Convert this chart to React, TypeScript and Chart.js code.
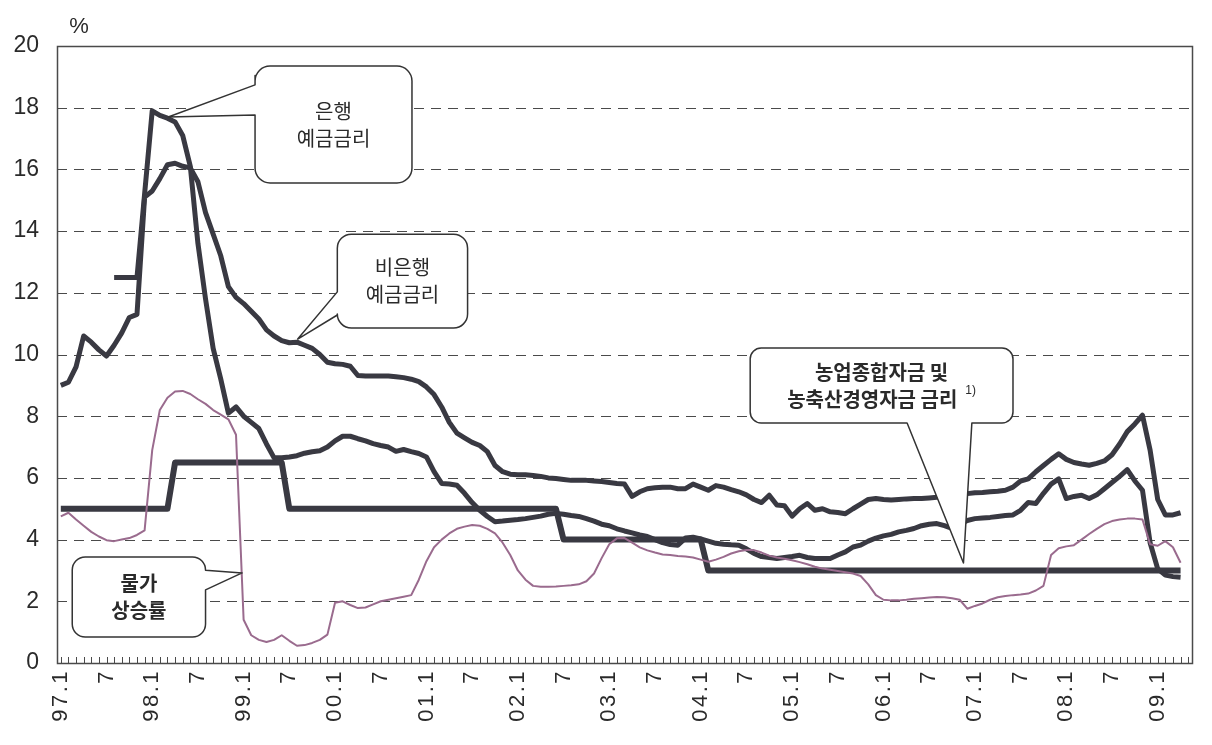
import React, { useEffect, useRef } from "react";
import { Chart, registerables } from "chart.js";

Chart.register(...registerables);

// ---- categories (monthly, 1997.1 – 2009.5) ----
const YEARS = ["97", "98", "99", "00", "01", "02", "03", "04", "05", "06", "07", "08", "09"];
const MONTHS_LAST_YEAR = 5;
const LABELS: string[] = YEARS.flatMap((y, k) =>
  Array.from({ length: k === YEARS.length - 1 ? MONTHS_LAST_YEAR : 12 }, (_, m) => `${y}.${m + 1}`)
);

// ---- y axis ----
const Y_MIN = 0;
const Y_MAX = 20;
const Y_STEP = 2;

// ---- series (%, monthly from 97.1) ----
// 비은행 예금금리
const NONBANK: number[] = [
  9.0, 9.1, 9.6, 10.6, 10.4, 10.15, 9.95, 10.3, 10.7, 11.2, 11.3, 15.1,
  15.3, 15.7, 16.15, 16.2, 16.1, 16.05, 15.6, 14.6, 13.9, 13.2, 12.2, 11.85,
  11.65, 11.4, 11.15, 10.8, 10.6, 10.45, 10.38, 10.4, 10.3, 10.2, 10.0, 9.75,
  9.7, 9.68, 9.62, 9.32, 9.3, 9.3, 9.3, 9.3, 9.28, 9.25, 9.2, 9.12,
  8.95, 8.7, 8.3, 7.8, 7.45, 7.3, 7.15, 7.05, 6.85, 6.4, 6.2, 6.12,
  6.1, 6.1, 6.08, 6.05, 6.0, 5.98, 5.95, 5.92, 5.92, 5.92, 5.9, 5.88,
  5.85, 5.82, 5.8, 5.4, 5.55, 5.65, 5.68, 5.7, 5.7, 5.65, 5.65, 5.8,
  5.7, 5.6, 5.75, 5.7, 5.62, 5.55, 5.45, 5.3, 5.2, 5.44, 5.12, 5.1,
  4.76, 5.0, 5.17, 4.95, 5.0, 4.9, 4.88, 4.84, 5.0, 5.15, 5.3, 5.33,
  5.3, 5.28, 5.3, 5.32, 5.33, 5.33, 5.35, 5.37, 5.4, 5.42, 5.45, 5.49,
  5.52, 5.53, 5.55, 5.57, 5.6, 5.7, 5.9, 5.97, 6.2, 6.4, 6.6, 6.78,
  6.6, 6.5, 6.45, 6.41, 6.47, 6.55, 6.75, 7.1, 7.5, 7.75, 8.03, 6.9,
  5.3, 4.8, 4.8, 4.87,
];

// 은행 예금금리
const BANK: (number | null)[] = [
  null, null, null, null, null, null, null, 12.5, 12.5, 12.5, 12.5, 15.2,
  17.9, 17.75, 17.66, 17.54, 17.1, 16.1, 13.6, 11.8, 10.2, 9.2, 8.1, 8.3,
  8.0, 7.8, 7.6, 7.1, 6.65, 6.65, 6.68, 6.72, 6.8, 6.85, 6.88, 7.0,
  7.2, 7.35, 7.35, 7.27, 7.2, 7.11, 7.05, 7.0, 6.86, 6.92, 6.85, 6.79,
  6.68, 6.2, 5.82, 5.8, 5.76, 5.5, 5.2, 4.95, 4.75, 4.58, 4.6, 4.63,
  4.65, 4.68, 4.72, 4.76, 4.82, 4.85, 4.82, 4.78, 4.75, 4.68, 4.6, 4.5,
  4.45, 4.35, 4.28, 4.22, 4.15, 4.1, 4.0, 3.9, 3.84, 3.82, 4.05, 4.08,
  4.02, 3.95, 3.88, 3.85, 3.83, 3.82, 3.7, 3.55, 3.45, 3.42, 3.39, 3.42,
  3.45, 3.49, 3.42, 3.39, 3.39, 3.39, 3.5, 3.6, 3.76, 3.82, 3.95, 4.05,
  4.12, 4.17, 4.25, 4.3, 4.36, 4.45, 4.5, 4.52, 4.45, 4.36, 4.5, 4.62,
  4.68, 4.7, 4.72, 4.75, 4.78, 4.8, 4.95, 5.2, 5.17, 5.5, 5.8, 5.97,
  5.33, 5.4, 5.44, 5.33, 5.45, 5.65, 5.85, 6.05, 6.27, 5.9, 5.6, 3.9,
  3.05, 2.85, 2.8, 2.78,
];

// 농업종합자금 및 농축산경영자금 금리
const AGRI: number[] = [
  5, 5, 5, 5, 5, 5, 5, 5, 5, 5, 5, 5,
  5, 5, 5, 6.5, 6.5, 6.5, 6.5, 6.5, 6.5, 6.5, 6.5, 6.5,
  6.5, 6.5, 6.5, 6.5, 6.5, 6.5, 5, 5, 5, 5, 5, 5,
  5, 5, 5, 5, 5, 5, 5, 5, 5, 5, 5, 5,
  5, 5, 5, 5, 5, 5, 5, 5, 5, 5, 5, 5,
  5, 5, 5, 5, 5, 5, 4, 4, 4, 4, 4, 4,
  4, 4, 4, 4, 4, 4, 4, 4, 4, 4, 4, 4,
  4, 3, 3, 3, 3, 3, 3, 3, 3, 3, 3, 3,
  3, 3, 3, 3, 3, 3, 3, 3, 3, 3, 3, 3,
  3, 3, 3, 3, 3, 3, 3, 3, 3, 3, 3, 3,
  3, 3, 3, 3, 3, 3, 3, 3, 3, 3, 3, 3,
  3, 3, 3, 3, 3, 3, 3, 3, 3, 3, 3, 3,
  3, 3, 3, 3,
];

// 물가상승률
const CPI: number[] = [
  4.75, 4.87, 4.65, 4.45, 4.25, 4.1, 3.98, 3.95, 4.0, 4.05, 4.15, 4.3,
  6.9, 8.2, 8.6, 8.8, 8.82, 8.72, 8.55, 8.4, 8.2, 8.05, 7.9, 7.4,
  1.4, 0.9, 0.75, 0.68, 0.75, 0.9, 0.72, 0.56, 0.58, 0.65, 0.75, 0.92,
  1.95, 2.0, 1.88, 1.78, 1.8, 1.9, 2.0, 2.05, 2.1, 2.15, 2.2, 2.7,
  3.3, 3.75, 4.0, 4.2, 4.35, 4.42, 4.47, 4.45, 4.35, 4.2, 3.9, 3.5,
  3.0, 2.7, 2.5, 2.47, 2.47, 2.48, 2.5, 2.52, 2.55, 2.65, 2.9, 3.4,
  3.85, 4.04, 4.05, 3.9, 3.75, 3.65, 3.58, 3.52, 3.5, 3.47, 3.45, 3.42,
  3.35, 3.28, 3.35, 3.44, 3.55, 3.62, 3.66, 3.66, 3.58, 3.48, 3.42, 3.38,
  3.33, 3.27, 3.2, 3.12, 3.06, 3.02, 2.98, 2.94, 2.9, 2.82, 2.55, 2.2,
  2.05, 2.03, 2.03, 2.05, 2.08, 2.1, 2.12, 2.14, 2.13, 2.1, 2.05, 1.76,
  1.85, 1.93, 2.05, 2.13, 2.17, 2.2, 2.22, 2.25, 2.35, 2.5, 3.5, 3.72,
  3.78, 3.82, 4.0, 4.18, 4.35, 4.5, 4.6, 4.65, 4.68, 4.68, 4.65, 3.85,
  3.8, 3.95, 3.75, 3.25,
];

// ---- callouts (geometry in data units: x = month index, y = %) ----
type Callout = {
  lines: string[];
  sup?: string;
  bold?: boolean;
  left: number; right: number; top: number; bottom: number;
  radius: number;
  side: "left" | "right" | "bottom";
  a1: number; a2: number;
  tip: [number, number];
};

const CALLOUTS: Callout[] = [
  { lines: ["은행", "예금금리"], left: 25.5, right: 46.1, top: 19.35, bottom: 15.56, radius: 15,
    side: "left", a1: 18.74, a2: 17.76, tip: [14.1, 17.7] },
  { lines: ["비은행", "예금금리"], left: 36.3, right: 53.4, top: 13.9, bottom: 10.86, radius: 14,
    side: "left", a1: 12.03, a2: 11.28, tip: [31.1, 10.5] },
  { lines: ["농업종합자금 및", "농축산경영자금 금리"], sup: "1)", bold: true, left: 90.5, right: 125.0, top: 10.21,
    bottom: 7.78, radius: 11, side: "bottom", a1: 111.1, a2: 119.6, tip: [118.5, 3.24] },
  { lines: ["물가", "상승률"], bold: true, left: 1.5, right: 19.0, top: 3.44, bottom: 0.84, radius: 13,
    side: "right", a1: 3.01, a2: 2.37, tip: [23.8, 2.92] },
];

const LINE_COLOR = "#393942";
const CPI_COLOR = "#9a6b8e";
const FRAME_COLOR = "#4a4a4a";
const TEXT_COLOR = "#2a2a2a";
const KFONT = '"Noto Sans CJK KR", "Noto Sans", sans-serif';
const LFONT = '"Liberation Sans", Arial, sans-serif';
const X_LETTER_SPACING = "2.5px";

const framePlugin = {
  id: "frame",
  beforeDraw(chart: any) {
    const xs = chart.scales.x;
    if (xs && !xs.__spaced) {
      const orig = xs.drawLabels.bind(xs);
      xs.drawLabels = (area: any) => {
        const c = chart.ctx;
        c.save();
        (c as any).letterSpacing = X_LETTER_SPACING;
        orig(area);
        c.restore();
      };
      xs.__spaced = true;
    }
  },
  beforeDatasetsDraw(chart: any) {
    const { ctx, chartArea, scales } = chart;
    const { left, right, top, bottom } = chartArea;
    const x = scales.x;
    const y = scales.y;
    ctx.save();
    ctx.strokeStyle = FRAME_COLOR;
    ctx.lineWidth = 1.2;
    ctx.setLineDash([10, 7]);
    for (const t of y.ticks) {
      if (t.value <= Y_MIN || t.value >= Y_MAX) continue;
      const py = Math.round(y.getPixelForValue(t.value)) + 0.5;
      ctx.beginPath();
      ctx.moveTo(left, py);
      ctx.lineTo(right, py);
      ctx.stroke();
    }
    ctx.setLineDash([]);
    ctx.lineWidth = 1;
    for (let i = 0; i < LABELS.length; i++) {
      const px = Math.round(x.getPixelForValue(i)) + 0.5;
      ctx.beginPath();
      ctx.moveTo(px, bottom);
      ctx.lineTo(px, bottom - 6);
      ctx.stroke();
    }
    ctx.lineWidth = 1.5;
    ctx.strokeRect(Math.round(left) + 0.5, Math.round(top) + 0.5, Math.round(right - left), Math.round(bottom - top));
    ctx.fillStyle = TEXT_COLOR;
    ctx.font = `22px ${LFONT}`;
    ctx.textAlign = "center";
    ctx.textBaseline = "middle";
    ctx.fillText("%", left + 22, top - 19);
    ctx.restore();
  },
};

function polyPath(ctx: CanvasRenderingContext2D, verts: { x: number; y: number; r: number }[]) {
  const n = verts.length;
  const f = verts[0];
  const l = verts[n - 1];
  ctx.beginPath();
  ctx.moveTo((f.x + l.x) / 2, (f.y + l.y) / 2);
  for (let k = 0; k < n; k++) {
    const v = verts[k];
    const nx = verts[(k + 1) % n];
    if (v.r > 0) ctx.arcTo(v.x, v.y, nx.x, nx.y, v.r);
    else ctx.lineTo(v.x, v.y);
  }
  ctx.closePath();
}

const calloutPlugin = {
  id: "callouts",
  afterDatasetsDraw(chart: any) {
    const { ctx, scales } = chart;
    const X = (v: number) => scales.x.getPixelForValue(v);
    const Y = (v: number) => scales.y.getPixelForValue(v);
    ctx.save();
    for (const c of CALLOUTS) {
      const L = X(c.left), R = X(c.right), T = Y(c.top), B = Y(c.bottom), r = c.radius;
      const tip = { x: X(c.tip[0]), y: Y(c.tip[1]), r: 0 };
      let verts: { x: number; y: number; r: number }[] = [];
      if (c.side === "left") {
        verts = [
          { x: L, y: T, r }, { x: R, y: T, r }, { x: R, y: B, r }, { x: L, y: B, r },
          { x: L, y: Y(c.a2), r: 0 }, tip, { x: L, y: Y(c.a1), r: 0 },
        ];
      } else if (c.side === "right") {
        verts = [
          { x: L, y: T, r }, { x: R, y: T, r }, { x: R, y: Y(c.a1), r: 0 }, tip,
          { x: R, y: Y(c.a2), r: 0 }, { x: R, y: B, r }, { x: L, y: B, r },
        ];
      } else {
        verts = [
          { x: L, y: T, r }, { x: R, y: T, r }, { x: R, y: B, r },
          { x: X(c.a2), y: B, r: 0 }, tip, { x: X(c.a1), y: B, r: 0 }, { x: L, y: B, r },
        ];
      }
      polyPath(ctx, verts);
      ctx.fillStyle = "#ffffff";
      ctx.fill();
      ctx.strokeStyle = "#333";
      ctx.lineWidth = 1.5;
      ctx.lineJoin = "round";
      ctx.stroke();

      const cx = (L + R) / 2;
      const cy = (T + B) / 2;
      const lh = 27;
      ctx.fillStyle = TEXT_COLOR;
      ctx.textBaseline = "middle";
      const mainFont = `${c.bold ? "bold " : ""}20px ${KFONT}`;
      c.lines.forEach((line, k) => {
        const ly = cy + (k - (c.lines.length - 1) / 2) * lh;
        const isLast = k === c.lines.length - 1;
        if (isLast && c.sup) {
          ctx.font = mainFont;
          const w = ctx.measureText(line).width;
          ctx.font = `12px ${LFONT}`;
          const ws = ctx.measureText(c.sup).width;
          const total = w + 8 + ws;
          ctx.textAlign = "left";
          ctx.font = mainFont;
          ctx.fillText(line, cx - total / 2, ly);
          ctx.font = `12px ${LFONT}`;
          ctx.fillText(c.sup, cx - total / 2 + w + 8, ly - 8);
        } else {
          ctx.textAlign = "center";
          ctx.font = mainFont;
          ctx.fillText(line, cx, ly);
        }
      });
    }
    ctx.restore();
  },
};

export default function App() {
  const ref = useRef<HTMLCanvasElement>(null);

  useEffect(() => {
    if (!ref.current) return;
    Chart.defaults.font.family = LFONT;
    const chart = new Chart(ref.current, {
      type: "line",
      data: {
        labels: LABELS,
        datasets: [
          { label: "물가상승률", data: CPI, borderColor: CPI_COLOR, borderWidth: 2, order: 0 },
          { label: "은행 예금금리", data: BANK, borderColor: LINE_COLOR, borderWidth: 5, order: 1 },
          { label: "비은행 예금금리", data: NONBANK, borderColor: LINE_COLOR, borderWidth: 5, order: 2 },
          { label: "농업종합자금 및 농축산경영자금 금리", data: AGRI, borderColor: LINE_COLOR, borderWidth: 6, order: 3 },
        ].map((d) => ({
          ...d,
          pointRadius: 0,
          pointHoverRadius: 0,
          tension: 0,
          fill: false,
          borderJoinStyle: "round" as const,
          spanGaps: false,
        })),
      },
      options: {
        responsive: false,
        animation: false,
        devicePixelRatio: 1,
        layout: { padding: { top: 46, right: 20, left: 0, bottom: 0 } },
        plugins: { legend: { display: false }, tooltip: { enabled: false }, title: { display: false } },
        events: [],
        scales: {
          x: {
            type: "category",
            offset: true,
            grid: { display: false, drawTicks: false, offset: true },
            border: { display: false },
            ticks: {
              autoSkip: false,
              minRotation: 90,
              maxRotation: 90,
              padding: 6,
              color: TEXT_COLOR,
              font: { size: 22, family: LFONT },
              callback: (_v: any, idx: number) => {
                const lab = LABELS[idx];
                const m = lab.split(".")[1];
                if (m === "1") return lab;
                if (m === "7") return "7";
                return "";
              },
            },
            afterFit: (s: any) => {
              s.height = 82;
              s.paddingLeft = 0;
              s.paddingRight = 0;
            },
          },
          y: {
            type: "linear",
            min: Y_MIN,
            max: Y_MAX,
            grid: { display: false, drawTicks: false },
            border: { display: false },
            ticks: {
              stepSize: Y_STEP,
              padding: 18,
              color: TEXT_COLOR,
              font: { size: 23, family: LFONT },
            },
            afterFit: (s: any) => {
              s.width = 57;
              s.paddingTop = 0;
              s.paddingBottom = 0;
            },
          },
        },
      },
      plugins: [framePlugin, calloutPlugin],
    });
    return () => chart.destroy();
  }, []);

  return (
    <div style={{ position: "fixed", left: 0, top: 0, width: 1212, height: 745, background: "#fff" }}>
      <canvas ref={ref} width={1212} height={745} style={{ width: 1212, height: 745, display: "block" }} />
    </div>
  );
}
